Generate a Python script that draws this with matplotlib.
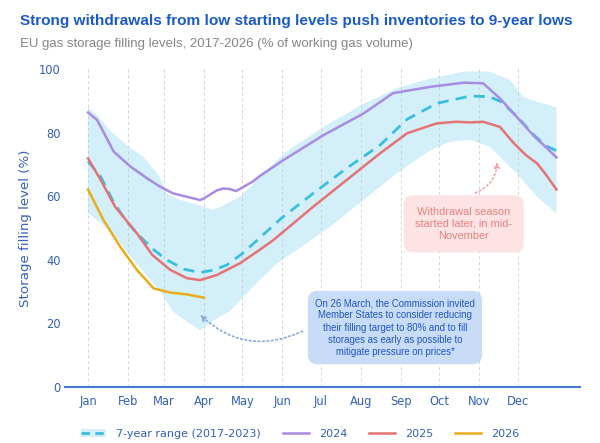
import matplotlib
matplotlib.use("Agg")
import matplotlib.pyplot as plt
from matplotlib.lines import Line2D
from matplotlib.patches import Patch

# day-of-year values
band_days = [0, 8, 17, 30, 43, 56, 61, 70, 82, 97, 103, 118, 134, 152, 183, 214, 240, 266, 292, 312, 328, 338, 349, 364]
band_upper = [88, 85, 80.8, 76, 72.4, 66, 61, 59, 57.7, 55.7, 56.7, 59.8, 66.1, 73.4, 81.8, 89, 94, 97, 99.2, 99.2, 96.5, 91.3, 89.7, 88]
low_days = [0, 17, 33, 51, 58, 66, 77, 87, 100, 110, 128, 147, 162, 188, 214, 240, 266, 281, 297, 312, 333, 349, 364]
band_lower = [54.6, 49.4, 41, 32.6, 29, 23.7, 20.5, 17.9, 21.6, 23.7, 31.5, 38.9, 43, 50.4, 58.8, 67.2, 74.5, 77.1, 77.7, 75.6, 67.2, 59.8, 54.6]

avg_days = [0, 10, 20, 30, 40, 50, 61, 75, 87, 98, 108, 120, 131, 150, 175, 201, 227, 248, 271, 297, 312, 321, 333, 347, 356, 364]
avg_vals = [71, 66, 58, 52, 47.5, 43.5, 40, 37, 36, 36.8, 38.4, 42, 46, 53, 60.9, 68.8, 76.1, 84.2, 89.2, 91.5, 91.3, 89.7, 85.2, 79, 75.8, 74.3]

y2024_days = [0, 7, 20, 33, 46, 56, 66, 80, 87, 90, 100, 105, 110, 115, 128, 134, 152, 183, 214, 237, 266, 292, 307, 320, 333, 347, 354, 364]
y2024_vals = [86.3, 84, 74, 69.3, 65.6, 63, 60.9, 59.5, 58.8, 59.3, 61.8, 62.4, 62.3, 61.6, 64.6, 66.5, 71.4, 79.2, 86, 92.4, 94.4, 95.7, 95.5, 90.8, 85, 78.7, 76.1, 72.2]

y2025_days = [0, 10, 21, 38, 50, 64, 77, 87, 100, 118, 134, 144, 175, 201, 227, 248, 271, 286, 297, 307, 320, 331, 340, 349, 356, 364]
y2025_vals = [71.9, 65, 56.7, 48.3, 41.5, 36.8, 34.2, 33.6, 35.2, 38.9, 43.3, 46.2, 56.7, 65.1, 73.5, 79.8, 82.9, 83.4, 83.2, 83.4, 81.8, 76.6, 73, 70.3, 66.7, 62.1]

y2026_days = [0, 12, 25, 38, 51, 64, 77, 90]
y2026_vals = [62.1, 52.5, 44.1, 36.8, 31, 29.7, 29.1, 28.1]

month_days = [0, 31, 59, 90, 120, 151, 181, 212, 243, 273, 304, 334]
month_labels = ["Jan", "Feb", "Mar", "Apr", "May", "Jun", "Jul", "Aug", "Sep", "Oct", "Nov", "Dec"]

BLUE = "#3262b5"
BAND = "#d3effa"
AVG = "#3bbde0"
C24 = "#a98be3"
C25 = "#e57373"
C26 = "#e9ad1c"

fig = plt.figure(figsize=(6, 4.43), dpi=100)
ax = fig.add_axes([65 / 600, 56 / 443, 515 / 600, 318 / 443])

# range band as one polygon: upper edge left to right, lower edge back
ax.fill(band_days + low_days[::-1], band_upper + band_lower[::-1], color=BAND, lw=0, zorder=1)
for d in month_days:
    ax.axvline(d, color="#c8c8c8", lw=0.7, dashes=(3, 3), alpha=0.8, zorder=1.5)
ax.plot(avg_days, avg_vals, color=AVG, lw=2, dashes=(4, 2.6), zorder=3)
ax.plot(y2024_days, y2024_vals, color=C24, lw=1.8, zorder=3)
ax.plot(y2025_days, y2025_vals, color=C25, lw=1.8, zorder=3)
ax.plot(y2026_days, y2026_vals, color=C26, lw=1.8, zorder=3)

ax.set_xlim(-17.9, 382.3)
ax.set_ylim(0, 100)
ax.set_xticks(month_days)
ax.set_xticklabels(month_labels)
ax.set_yticks([0, 20, 40, 60, 80, 100])
ax.tick_params(length=0, colors=BLUE, labelsize=8.3)
ax.tick_params(axis="y", pad=3)
ax.tick_params(axis="x", pad=6)
for s in ["top", "right", "left"]:
    ax.spines[s].set_visible(False)
ax.spines["bottom"].set_color("#4a78d0")
ax.spines["bottom"].set_linewidth(1.5)
ax.set_ylabel("Storage filling level (%)", color=BLUE, fontsize=9.6, labelpad=5)

# annotations
ax.text(292, 51.3, "Withdrawal season\nstarted later, in mid-\nNovember", ha="center", va="center",
        fontsize=7.9, family="Liberation Sans", color="#e8837f", linespacing=1.25,
        bbox=dict(boxstyle="round,pad=1.05,rounding_size=0.8", fc="#fde3e3", ec="none"))
ax.annotate("", xy=(318, 71.7), xytext=(299, 60.7),
            arrowprops=dict(arrowstyle="-|>", color="#f0a8a8", ls=":", lw=1.2,
                            connectionstyle="arc3,rad=0.35", mutation_scale=8))

ax.text(238.5, 18.7, "On 26 March, the Commission invited\nMember States to consider reducing\n"
        "their filling target to 80% and to fill\nstorages as early as possible to\nmitigate pressure on prices*",
        ha="center", va="center", fontsize=6.9, family="Liberation Sans", color="#1f57c3", linespacing=1.28,
        bbox=dict(boxstyle="round,pad=0.75,rounding_size=1.0", fc="#c8dcf8", ec="none"))
ax.annotate("", xy=(85.5, 23.3), xytext=(168.6, 17.9),
            arrowprops=dict(arrowstyle="-|>", color="#8aa8e0", ls=":", lw=1.2,
                            connectionstyle="arc3,rad=-0.35", mutation_scale=8))

fig.text(20 / 600, 1 - 21 / 443, "Strong withdrawals from low starting levels push inventories to 9-year lows",
         fontsize=11.1, fontweight="bold", family="Liberation Sans", color="#1a5bc4", va="center")
fig.text(20 / 600, 1 - 44 / 443, "EU gas storage filling levels, 2017-2026 (% of working gas volume)",
         fontsize=9.5, family="Liberation Sans", color="#858585", va="center")

handles = [(Patch(fc=BAND, ec="none"), Line2D([], [], color=AVG, lw=2, dashes=(3, 2))),
           Line2D([], [], color=C24, lw=1.8),
           Line2D([], [], color=C25, lw=1.8),
           Line2D([], [], color=C26, lw=1.8)]
labels = ["7-year range (2017-2023)", "2024", "2025", "2026"]
leg = fig.legend(handles, labels, loc="center", bbox_to_anchor=(300 / 600, 1 - 434 / 443), ncol=4,
                 frameon=False, fontsize=8, handlelength=2.3, handletextpad=0.9, columnspacing=2.0)
for t in leg.get_texts():
    t.set_color(BLUE)

fig.savefig("out.png", dpi=100)
